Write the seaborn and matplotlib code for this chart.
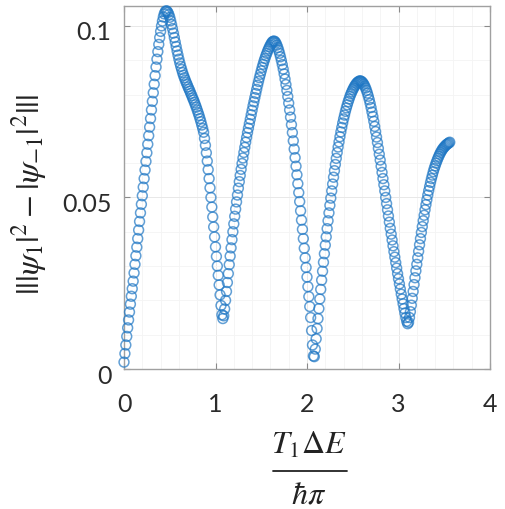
import numpy as np
import pandas as pd
import matplotlib
matplotlib.use("Agg")
import matplotlib.pyplot as plt
import matplotlib.transforms as mtransforms
from matplotlib.lines import Line2D
from matplotlib.ticker import MultipleLocator
import seaborn as sns

# Sampled signal |P(+1) - P(-1)| against the scaled pulse duration,
# grid step of 0.01 starting at 0.
x_step = 0.01

rise_1 = [0.0020, 0.0045, 0.0070, 0.0095, 0.0120, 0.0143, 0.0166, 0.0189, 0.0212, 0.0234,
          0.0256, 0.0280, 0.0305, 0.0330, 0.0355, 0.0380, 0.0405, 0.0430, 0.0455, 0.0480,
          0.0505, 0.0530, 0.0555, 0.0580, 0.0605, 0.0630, 0.0655, 0.0680, 0.0705, 0.0730,
          0.0755, 0.0780, 0.0805, 0.0830, 0.0855, 0.0880, 0.0903, 0.0925, 0.0946, 0.0966,
          0.0984, 0.1000, 0.1014, 0.1026, 0.1035, 0.1041, 0.1044]
fall_1 = [0.1043, 0.1039, 0.1033, 0.1025, 0.1015, 0.1004, 0.0992, 0.0979, 0.0966, 0.0953,
          0.0940, 0.0927, 0.0915, 0.0903, 0.0892, 0.0882, 0.0873, 0.0864, 0.0856, 0.0849,
          0.0842, 0.0835, 0.0829, 0.0822, 0.0816, 0.0810, 0.0803, 0.0797, 0.0790, 0.0784,
          0.0777, 0.0770, 0.0763, 0.0755, 0.0747, 0.0739, 0.0730, 0.0721, 0.0711, 0.0701,
          0.0690, 0.0672, 0.0652, 0.0630, 0.0606, 0.0581, 0.0555, 0.0528, 0.0500, 0.0472,
          0.0443, 0.0414, 0.0385, 0.0356, 0.0328, 0.0300, 0.0273, 0.0245, 0.0216, 0.0185,
          0.0158]
rise_2 = [0.0147, 0.0155, 0.0175, 0.0200, 0.0226, 0.0252, 0.0278, 0.0304, 0.0329, 0.0353,
          0.0377, 0.0400, 0.0423, 0.0445, 0.0466, 0.0487, 0.0507, 0.0527, 0.0546, 0.0564,
          0.0582, 0.0599, 0.0615, 0.0631, 0.0646, 0.0661, 0.0675, 0.0689, 0.0702, 0.0715,
          0.0728, 0.0741, 0.0754, 0.0767, 0.0779, 0.0791, 0.0803, 0.0815, 0.0827, 0.0838,
          0.0849, 0.0859, 0.0869, 0.0879, 0.0888, 0.0897, 0.0905, 0.0913, 0.0920, 0.0927,
          0.0933, 0.0939, 0.0944, 0.0949, 0.0953, 0.0955]
fall_2 = [0.0956, 0.0954, 0.0950, 0.0944, 0.0937, 0.0929, 0.0920, 0.0910, 0.0899, 0.0887,
          0.0874, 0.0860, 0.0845, 0.0829, 0.0812, 0.0794, 0.0775, 0.0755, 0.0734, 0.0712,
          0.0689, 0.0665, 0.0641, 0.0616, 0.0591, 0.0566, 0.0540, 0.0514, 0.0488, 0.0461,
          0.0434, 0.0407, 0.0380, 0.0352, 0.0324, 0.0296, 0.0268, 0.0240, 0.0211, 0.0182,
          0.0150, 0.0112, 0.0070, 0.0038]
rise_3 = [0.0036, 0.0058, 0.0088, 0.0118, 0.0147, 0.0176, 0.0204, 0.0232, 0.0259, 0.0285,
          0.0311, 0.0336, 0.0361, 0.0385, 0.0409, 0.0432, 0.0455, 0.0477, 0.0498, 0.0519,
          0.0539, 0.0559, 0.0578, 0.0596, 0.0614, 0.0631, 0.0647, 0.0662, 0.0677, 0.0691,
          0.0704, 0.0717, 0.0729, 0.0740, 0.0751, 0.0761, 0.0770, 0.0779, 0.0787, 0.0795,
          0.0802, 0.0808, 0.0814, 0.0819, 0.0824, 0.0828, 0.0832, 0.0835, 0.0837, 0.0839,
          0.0840]
fall_3 = [0.0839, 0.0837, 0.0834, 0.0830, 0.0825, 0.0819, 0.0812, 0.0804, 0.0795, 0.0785,
          0.0774, 0.0762, 0.0749, 0.0736, 0.0722, 0.0707, 0.0692, 0.0676, 0.0660, 0.0643,
          0.0626, 0.0609, 0.0591, 0.0573, 0.0555, 0.0537, 0.0519, 0.0500, 0.0482, 0.0464,
          0.0446, 0.0428, 0.0410, 0.0393, 0.0376, 0.0359, 0.0342, 0.0326, 0.0310, 0.0294,
          0.0278, 0.0263, 0.0248, 0.0233, 0.0218, 0.0204, 0.0190, 0.0176, 0.0163, 0.0150,
          0.0139, 0.0132]
rise_4 = [0.0136, 0.0150, 0.0167, 0.0186, 0.0206, 0.0226, 0.0246, 0.0266, 0.0286, 0.0305,
          0.0324, 0.0343, 0.0362, 0.0380, 0.0398, 0.0415, 0.0432, 0.0448, 0.0464, 0.0479,
          0.0493, 0.0507, 0.0520, 0.0532, 0.0544, 0.0555, 0.0565, 0.0575, 0.0584, 0.0592,
          0.0600, 0.0607, 0.0614, 0.0620, 0.0626, 0.0631, 0.0636, 0.0640, 0.0644, 0.0647,
          0.0650, 0.0653, 0.0655, 0.0657, 0.0659, 0.0661]

x_ticks = [0, 1, 2, 3, 4]
y_ticks = [0, 0.05, 0.1]
y_tick_labels = ["0", "0.05", "0.1"]
x_label_num = r"$T_1\Delta E$"
x_label_den = r"$\hbar\pi$"
y_label = r"$|||\psi_1|^2-|\psi_{-1}|^2|||$"

signal = rise_1 + fall_1 + rise_2 + fall_2 + rise_3 + fall_3 + rise_4
df = pd.DataFrame({
    "t": np.arange(len(signal)) * x_step,
    "diff": signal,
})

sns.set_theme(style="white")
plt.rcParams["font.family"] = ["Lato", "DejaVu Sans"]
plt.rcParams["mathtext.fontset"] = "stix"

fig = plt.figure(figsize=(5.05, 5.09), dpi=100)
ax = fig.add_axes([124 / 505, 1 - 369 / 509, 366 / 505, 363 / 509])

sns.scatterplot(data=df, x="t", y="diff", ax=ax, marker="o",
                facecolors="none", edgecolor="#1f77c4", linewidth=1.1,
                alpha=0.7, s=50, clip_on=False, zorder=3, legend=False)

ax.set_xlim(0, 4)
ax.set_ylim(0, 0.1058)
ax.set_xticks(x_ticks)
ax.set_xticklabels([str(v) for v in x_ticks])
ax.set_yticks(y_ticks)
ax.set_yticklabels(y_tick_labels)
ax.xaxis.set_minor_locator(MultipleLocator(0.2))
ax.yaxis.set_minor_locator(MultipleLocator(0.01))

ax.grid(True, which="major", color="#e8e8e8", linewidth=0.7, zorder=0)
ax.grid(True, which="minor", color="#f4f4f4", linewidth=0.6, zorder=0)
ax.set_axisbelow(True)

for side in ax.spines.values():
    side.set_color("#a0a0a0")
    side.set_linewidth(1.0)

ax.tick_params(axis="both", which="major", direction="in", length=4,
               width=0.8, color="#8a8a8a", labelsize=18, labelcolor="#2b2b2b",
               top=True, right=True, bottom=True, left=True)
ax.tick_params(axis="x", which="major", pad=17)
ax.tick_params(axis="y", which="major", pad=9)
ax.tick_params(axis="both", which="minor", length=0)

# y tick labels sit a little below their ticks
shift_down = mtransforms.ScaledTranslation(0, -5 / 100, fig.dpi_scale_trans)
for lab in ax.get_yticklabels():
    lab.set_transform(lab.get_transform() + shift_down)

# x label: a stacked fraction with a tall gap around the bar
ax.set_xlabel("")
fig.text(309 / 505, 1 - 445 / 509, x_label_num, fontsize=23, color="#222222",
         ha="center", va="center")
fig.add_artist(Line2D([273 / 505, 347 / 505], [1 - 471 / 509, 1 - 471 / 509],
                      transform=fig.transFigure, color="#222222", linewidth=1.3))
fig.text(309 / 505, 1 - 494 / 509, x_label_den, fontsize=23, color="#222222",
         ha="center", va="center")

ax.set_ylabel(y_label, fontsize=24, color="#222222")
ax.yaxis.set_label_coords(-0.205, 0.48)

fig.savefig("out.png", dpi=100)
